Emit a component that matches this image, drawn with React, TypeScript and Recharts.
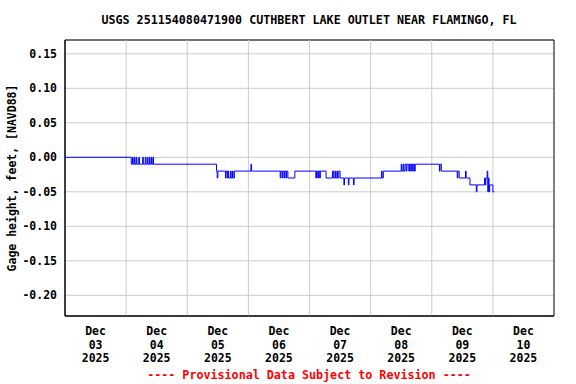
import {
  CartesianGrid,
  Label,
  Line,
  LineChart,
  ReferenceArea,
  ReferenceLine,
  XAxis,
  YAxis,
} from "recharts";

// Hours since Dec 03 2025 00:00 and gage height (ft, NAVD88).
// Values hold until the next reading (step line).
const READING_HOURS = [
  0, 26, 26.5, 26.75, 27.25, 27.5, 28, 28.25, 29, 29.25, 30.5, 30.75, 31.5,
  31.75, 32.25, 32.5, 33, 33.25, 33.75, 34, 34.5, 34.75, 59.5, 59.75, 60, 63,
  63.25, 63.75, 64, 64.25, 65, 65.25, 65.75, 66, 66.5, 73, 73.25, 84.5, 84.75,
  85.25, 85.5, 86, 86.25, 86.75, 87, 87.5, 90.25, 98.5, 98.75, 99.25, 99.5,
  100, 100.25, 102.5, 105, 105.5, 106, 106.25, 106.75, 107, 107.5, 108, 109.5,
  109.75, 111.25, 111.5, 113.25, 113.5, 124.25, 124.5, 125, 132, 132.25,
  132.75, 133, 133.5, 134, 134.25, 135, 135.25, 135.75, 136, 136.5, 136.75,
  137.25, 137.5, 147, 147.25, 147.75, 154, 154.25, 154.75, 157.25, 157.5, 159,
  161.5, 161.75, 164.75, 165, 165.25, 165.75, 166, 166.25, 166.5, 166.75, 168,
  168.5,
];
const GAGE_FT = [
  0, -0.01, 0, -0.01, 0, -0.01, 0, -0.01, 0, -0.01, 0, -0.01, 0, -0.01, 0,
  -0.01, 0, -0.01, 0, -0.01, 0, -0.01, -0.02, -0.03, -0.02, -0.03, -0.02,
  -0.03, -0.02, -0.03, -0.02, -0.03, -0.02, -0.03, -0.02, -0.01, -0.02, -0.03,
  -0.02, -0.03, -0.02, -0.03, -0.02, -0.03, -0.02, -0.03, -0.02, -0.03, -0.02,
  -0.03, -0.02, -0.03, -0.02, -0.03, -0.02, -0.03, -0.02, -0.03, -0.02, -0.03,
  -0.02, -0.03, -0.04, -0.03, -0.04, -0.03, -0.04, -0.03, -0.02, -0.03, -0.02,
  -0.01, -0.02, -0.01, -0.02, -0.01, -0.02, -0.01, -0.02, -0.01, -0.02, -0.01,
  -0.02, -0.01, -0.02, -0.01, -0.02, -0.01, -0.02, -0.03, -0.02, -0.03, -0.02,
  -0.03, -0.04, -0.05, -0.04, -0.03, -0.04, -0.03, -0.02, -0.05, -0.03, -0.05,
  -0.04, -0.05, -0.05,
];

const DAY_LABELS = ["03", "04", "05", "06", "07", "08", "09", "10"];
const DAY_NOON_HOURS = [12, 36, 60, 84, 108, 132, 156, 180];
const MIDNIGHT_HOURS = [24, 48, 72, 96, 120, 144, 168];
const Y_TICKS = [-0.2, -0.15, -0.1, -0.05, 0, 0.05, 0.1, 0.15];
const X_DOMAIN = [0, 192];
const Y_DOMAIN = [-0.23, 0.17];

const data = READING_HOURS.map((h, i) => ({ h, gage: GAGE_FT[i] }));

const FONT = '"DejaVu Sans Mono", monospace';
const GRID = "#cccccc";

function DayTick({ x, y, payload }: any) {
  const i = DAY_NOON_HOURS.indexOf(payload.value);
  return (
    <text
      x={x}
      y={y}
      textAnchor="middle"
      fontFamily={FONT}
      fontWeight="bold"
      fontSize={11.5}
      fill="#000"
    >
      <tspan x={x} dy={11}>Dec</tspan>
      <tspan x={x} dy={13.5}>{DAY_LABELS[i]}</tspan>
      <tspan x={x} dy={13.5}>2025</tspan>
    </text>
  );
}

export default function App() {
  return (
    <div
      style={{
        position: "absolute",
        left: 0,
        top: 0,
        width: 576,
        height: 384,
        background: "#fff",
        fontFamily: FONT,
      }}
    >
      <div
        style={{
          position: "absolute",
          top: 13,
          left: 0,
          width: 618,
          textAlign: "center",
          fontSize: 11.7,
          fontWeight: "bold",
          whiteSpace: "pre",
        }}
      >
        USGS 251154080471900 CUTHBERT LAKE OUTLET NEAR FLAMINGO, FL
      </div>
      <LineChart
        width={576}
        height={384}
        data={data}
        margin={{ top: 40, right: 22, bottom: 22, left: 0 }}
      >
        <CartesianGrid vertical={false} stroke={GRID} />
        {MIDNIGHT_HOURS.map((h) => (
          <ReferenceLine key={h} x={h} stroke={GRID} />
        ))}
        <XAxis
          dataKey="h"
          type="number"
          domain={X_DOMAIN}
          ticks={DAY_NOON_HOURS}
          tickLine={false}
          axisLine={{ stroke: "#000" }}
          tick={<DayTick />}
          height={46}
          interval={0}
          allowDataOverflow
        />
        <YAxis
          type="number"
          domain={Y_DOMAIN}
          ticks={Y_TICKS}
          tickFormatter={(v: number) => v.toFixed(2)}
          tickLine={false}
          axisLine={{ stroke: "#000" }}
          tick={{
            fill: "#000",
            fontSize: 11.5,
            fontWeight: "bold",
            fontFamily: FONT,
          }}
          width={65}
          allowDataOverflow
        >
          <Label
            content={({ viewBox }: any) => (
              <text
                x={12}
                y={viewBox.y + viewBox.height / 2}
                transform={`rotate(-90 12 ${viewBox.y + viewBox.height / 2})`}
                textAnchor="middle"
                dominantBaseline="central"
                fontFamily={FONT}
                fontWeight="bold"
                fontSize={11.5}
                fill="#000"
              >
                Gage height, feet, [NAVD88]
              </text>
            )}
          />
        </YAxis>
        {/* plot frame */}
        <ReferenceArea
          x1={X_DOMAIN[0]}
          x2={X_DOMAIN[1]}
          y1={Y_DOMAIN[0]}
          y2={Y_DOMAIN[1]}
          fill="none"
          fillOpacity={0}
          stroke="#000"
          strokeWidth={1}
          ifOverflow="visible"
        />
        <Line
          type="stepAfter"
          dataKey="gage"
          stroke="#0000ff"
          strokeWidth={1}
          dot={false}
          isAnimationActive={false}
        />
      </LineChart>
      <div
        style={{
          position: "absolute",
          top: 368,
          left: 0,
          width: 618,
          textAlign: "center",
          fontSize: 11.7,
          fontWeight: "bold",
          color: "#ff0000",
          whiteSpace: "pre",
        }}
      >
        ---- Provisional Data Subject to Revision ----
      </div>
    </div>
  );
}
